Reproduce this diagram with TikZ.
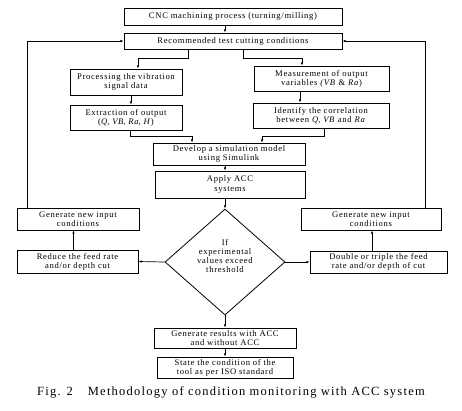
\documentclass[tikz,border=0pt]{standalone}
\usepackage{fontspec}
\setmainfont{Liberation Serif}
\usetikzlibrary{shapes.geometric,arrows.meta}
\newcommand{\boxfont}{\fontsize{8.6}{9.2}\selectfont\addfontfeature{LetterSpace=8}}
\begin{document}
\begin{tikzpicture}[x=1pt,y=-1pt,
  blk/.style={draw,line width=0.8pt,inner sep=0pt,align=center,font=\boxfont},
  dec/.style={draw,line width=0.8pt,diamond,inner sep=0pt,align=center,font=\boxfont,minimum width=120pt,minimum height=106pt},
  arr/.style={line width=0.7pt,-{Latex[length=3.2pt,width=2.4pt]}}]
\useasboundingbox (0,0) rectangle (462,410);
\node[blk,minimum width=218pt,minimum height=17pt] (cnc) at (233,16.5) {CNC machining process (turning/milling)};
\node[blk,minimum width=218pt,minimum height=16pt] (rec) at (233,41) {Recommended test cutting conditions};
\node[blk,minimum width=112pt,minimum height=26pt] (proc) at (126,82) {Processing the vibration\\signal data};
\node[blk,minimum width=135pt,minimum height=25pt] (meas) at (321.5,78.5) {Measurement of output\\variables \textit{(VB} \& \textit{Ra})};
\node[blk,minimum width=112pt,minimum height=25pt] (extr) at (126,117.5) {Extraction of output\\(\textit{Q}, \textit{VB}, \textit{Ra}, \textit{H})};
\node[blk,minimum width=136pt,minimum height=25pt] (iden) at (321,115.5) {Identify the correlation\\between \textit{Q}, \textit{VB} and \textit{Ra}};
\node[blk,minimum width=152pt,minimum height=22pt] (dev) at (229,154) {Develop a simulation model\\using Simulink};
\node[blk,minimum width=150pt,minimum height=27pt] (app) at (230,184.5) {Apply ACC\\systems};
\node[dec] (dia) at (225,262) {If\\experimental\\values exceed\\threshold\\[3pt]};
\node[blk,minimum width=122pt,minimum height=22pt] (genL) at (78,219) {Generate new input\\conditions};
\node[blk,minimum width=140pt,minimum height=22pt] (genR) at (371,219) {Generate new input\\conditions};
\node[blk,minimum width=121pt,minimum height=23pt] (red) at (77.5,261.5) {Reduce the feed rate\\and/or depth cut};
\node[blk,minimum width=137pt,minimum height=22pt] (dbl) at (378.5,262) {Double or triple the feed\\rate and/or depth of cut};
\node[blk,minimum width=142pt,minimum height=20pt] (res) at (225,338) {Generate results with ACC\\and without ACC};
\node[blk,minimum width=136pt,minimum height=21pt] (st) at (225,367.5) {State the condition of the\\tool as per ISO standard};
\node[font=\fontsize{12.5}{13}\selectfont\addfontfeature{LetterSpace=10}] (cap) at (231,392) {Fig. 2\hspace{1.2em}Methodology of condition monitoring with ACC system};
% connectors
\draw[arr] (cnc.south -| dia.north) -- (rec.north -| dia.north);
\draw[arr] ([xshift=-45pt]rec.south) -- ++(0,9) -| ([xshift=12pt]proc.north);
\draw[arr] ([xshift=10pt]rec.south) -- ++(0,9) -| ([xshift=-19.5pt]meas.north);
\draw[arr] ([xshift=5pt]proc.south) -- ([xshift=5pt]extr.north);
\draw[arr] ([xshift=-21.5pt]meas.south) -- ([xshift=-21pt]iden.north);
\draw[arr] ([xshift=4pt]extr.south) -- ++(0,6) -| ([xshift=-37pt]dev.north);
\draw[arr] ([xshift=3pt]iden.south) -- ++(0,8) -| ([xshift=33pt]dev.north);
\draw[arr] (dev.south -| dia.north) -- (app.north -| dia.north);
\draw[arr] (app.south -| dia.north) -- (dia.north);
\draw[arr] (dia.west) -- (red.east);
\draw[arr] (dia.east) -- (dbl.west);
\draw[arr] ([xshift=-4pt]red.north) -- ([xshift=-4pt]red.north |- genL.south);
\draw[arr] ([xshift=-6.5pt]dbl.north) -- ([xshift=-6.5pt]dbl.north |- genR.south);
\draw[arr] ([xshift=-51pt]genL.north) |- (rec.west);
\draw[arr] ([xshift=54pt]genR.north) |- (rec.east);
\draw[arr] (dia.south) -- (res.north);
\draw[arr] (res.south) -- (st.north);
\end{tikzpicture}
\end{document}
